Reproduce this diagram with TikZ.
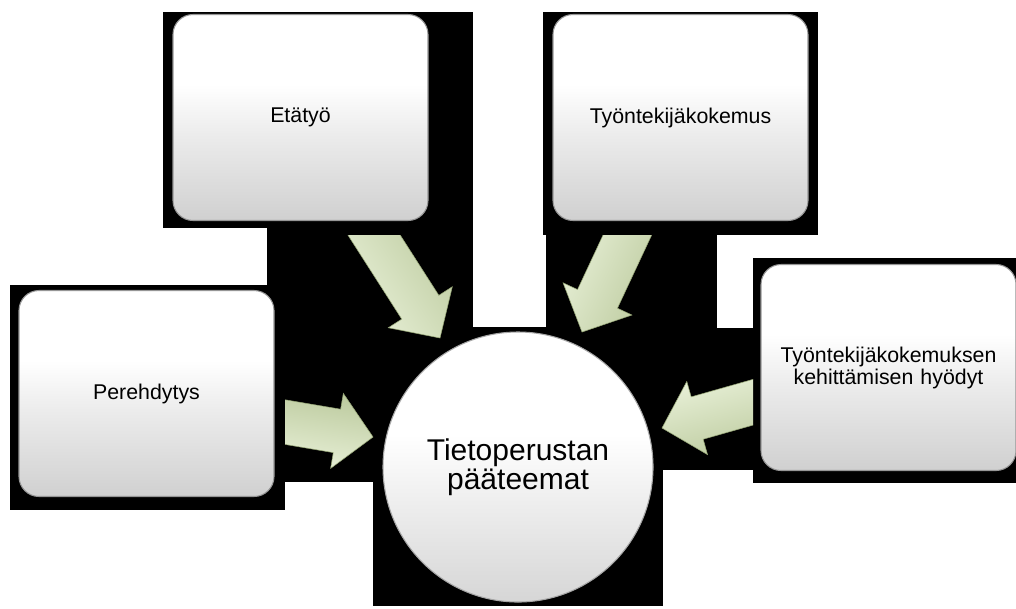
\documentclass[tikz,border=0pt]{standalone}
\usepackage{fontspec}
\setmainfont{Liberation Sans}
\usetikzlibrary{calc}
\definecolor{agreen}{RGB}{200,215,168}
\definecolor{alight}{RGB}{234,242,218}
\definecolor{adark}{RGB}{150,166,118}
\definecolor{rimgray}{RGB}{150,150,150}
\definecolor{boxlow}{RGB}{208,208,208}
\definecolor{boxmid}{RGB}{236,236,236}
\definecolor{hublow}{RGB}{214,214,214}
\pgfdeclareverticalshading{boxsh}{100bp}{color(0bp)=(boxlow); color(25bp)=(boxlow); color(46bp)=(boxmid); color(58bp)=(white); color(100bp)=(white)}
\pgfdeclareverticalshading{hubsh}{100bp}{color(0bp)=(hublow); color(25bp)=(hublow); color(42bp)=(boxmid); color(56bp)=(white); color(100bp)=(white)}
\tikzset{
  boxnode/.style={draw=rimgray, line width=0.8pt, rounded corners=15pt,
    shading=boxsh,
    minimum width=191.25pt, minimum height=154.5pt, align=center,
    font=\fontsize{16}{16.5}\selectfont, text width=175pt},
  hubnode/.style={circle, draw=rimgray!85, line width=0.8pt,
    shading=hubsh,
    minimum size=202.5pt, align=center, font=\fontsize{22.5}{21.5}\selectfont},
  blackbg/.style={fill=black},
  arrowbody/.style={draw=adark, line width=0.4pt, line join=miter,
    top color=agreen!94!black, middle color=agreen, bottom color=alight}
}
\newcommand{\blockarr}[3]{%
  \coordinate (#2b) at ($(#2)!27.4pt!(#1)$);
  \path[arrowbody, shading angle=#3]
    ($(#1)!16.5pt!90:(#2)$) -- ($(#2b)!16.5pt!90:(#2)$) -- ($(#2b)!28.5pt!90:(#2)$)
    -- (#2) -- ($(#2b)!28.5pt!-90:(#2)$) -- ($(#2b)!16.5pt!-90:(#2)$)
    -- ($(#1)!16.5pt!-90:(#2)$) -- cycle;
}
\begin{document}
\begin{tikzpicture}[x=0.75pt, y=-0.75pt]
\useasboundingbox (0,0) rectangle (1016,608);
\fill[white] (0,0) rectangle (1016,608);
% dark backdrop regions
\fill[blackbg] (163,12) rectangle (473,228);
\fill[blackbg] (267,228) rectangle (473,360);
\fill[blackbg] (543,12) rectangle (818,235);
\fill[blackbg] (546,235) rectangle (717,348);
\fill[blackbg] (10,285) rectangle (285,510);
\fill[blackbg] (285,355) rectangle (400,482);
\fill[blackbg] (373,327) rectangle (663,606);
\fill[blackbg] (640,328) rectangle (753,470);
\fill[blackbg] (753,258) rectangle (1016,483);
% arrow anchor coordinates
\coordinate (a1s) at (358,210); \coordinate (a1t) at (440,338);
\coordinate (a2s) at (640,208); \coordinate (a2t) at (582,332);
\coordinate (a3s) at (255,417); \coordinate (a3t) at (373,437);
\coordinate (a4s) at (782,394); \coordinate (a4t) at (662,428);
\begin{scope}
  \clip (260,235) rectangle (480,365);
  \blockarr{a1s}{a1t}{-57.4}
\end{scope}
\begin{scope}
  \clip (540,235) rectangle (720,360);
  \blockarr{a2s}{a2t}{-115.1}
\end{scope}
\begin{scope}
  \clip (285,340) rectangle (400,490);
  \blockarr{a3s}{a3t}{-9.6}
\end{scope}
\begin{scope}
  \clip (640,330) rectangle (753,480);
  \blockarr{a4s}{a4t}{-164.2}
\end{scope}
% boxes
\node[boxnode] (etatyo) at (300.5,117.5) {Etätyö};
\node[boxnode] (tkok) at (680.5,117.5) {Työntekijäkokemus};
\node[boxnode] (pere) at (146.5,393.5) {Perehdytys};
\node[boxnode] (hyod) at (888.5,367.5) {Työntekijäkokemuksen\\kehittämisen hyödyt};
% hub
\node[hubnode] (hub) at (518,467) {Tietoperustan\\pääteemat};
\end{tikzpicture}
\end{document}
